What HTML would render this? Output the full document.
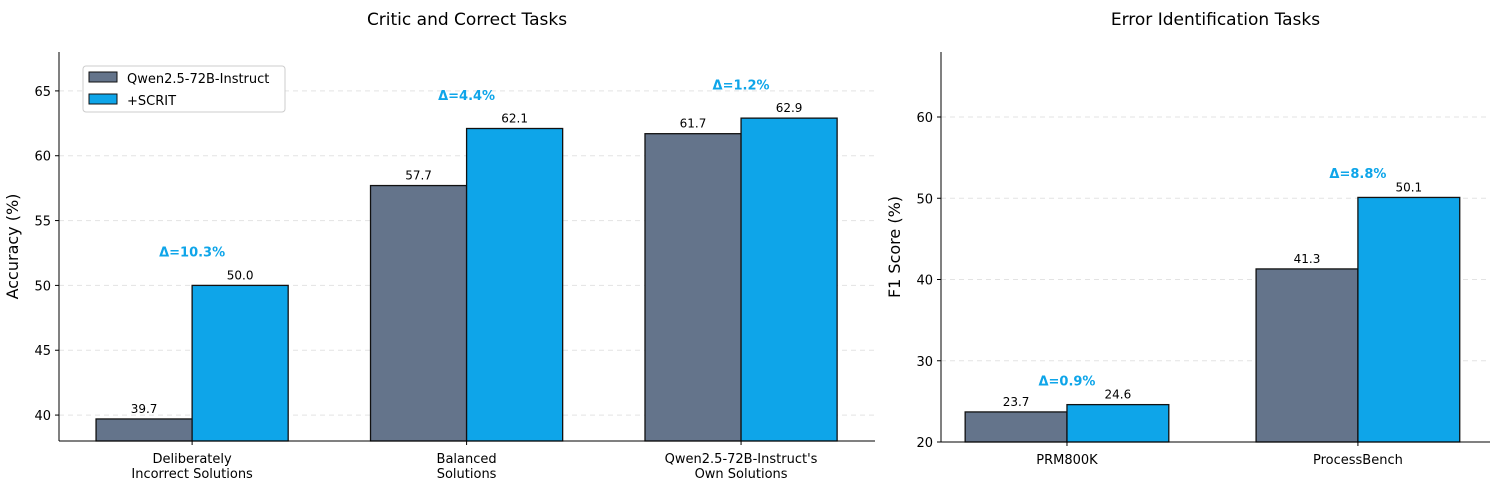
<!DOCTYPE html>
<html><head><meta charset="utf-8"><style>
html,body{margin:0;padding:0;background:#fff}
svg{display:block;font-family:"DejaVu Sans","Liberation Sans",sans-serif}
</style></head><body>
<svg id="c" width="1495" height="491" viewBox="0 0 1495 491" xmlns="http://www.w3.org/2000/svg"></svg>
<script>
const leftCats=["Deliberately\nIncorrect Solutions","Balanced\nSolutions","Qwen2.5-72B-Instruct's\nOwn Solutions"];
const leftBase=[39.7,57.7,61.7];
const leftScrit=[50.0,62.1,62.9];
const leftDelta=["Δ=10.3%","Δ=4.4%","Δ=1.2%"];
const leftTicks=[40,45,50,55,60,65];
const rightCats=["PRM800K","ProcessBench"];
const rightBase=[23.7,41.3];
const rightScrit=[24.6,50.1];
const rightDelta=["Δ=0.9%","Δ=8.8%"];
const rightTicks=[20,30,40,50,60];
const NS="http://www.w3.org/2000/svg";
const svg=document.getElementById('c');
function mk(t,a,txt){const e=document.createElementNS(NS,t);for(const k in a)e.setAttribute(k,a[k]);if(txt!==undefined)e.textContent=txt;svg.appendChild(e);return e;}
function panel(o){
  const {x0,x1,y0,y1,xmin,xmax,ymin,ymax,cats,base,scrit,delta,ticks,title,ylabel,prefix,doff}=o;
  const X=v=>x0+(v-xmin)/(xmax-xmin)*(x1-x0);
  const Y=v=>y1-(v-ymin)/(ymax-ymin)*(y1-y0);
  const w=0.35;
  ticks.forEach(t=>{
    let g=mk('line',{x1:x0,x2:x1,y1:Y(t),y2:Y(t),stroke:'#e3e3e3','stroke-dasharray':'5,4','stroke-width':1});
    
    let tk=mk('line',{x1:x0-4,x2:x0,y1:Y(t),y2:Y(t),stroke:'#000'});
    
    let l=mk('text',{x:x0-8,y:Y(t)+5,'text-anchor':'end','font-size':13},t);
    
  });
  cats.forEach((c,i)=>{
    [[base[i],'#64748b',-w],[scrit[i],'#0ea5e9',0]].forEach(([v,col,off],j)=>{
      const xa=X(i+off),xb=X(i+off+w);
      let r=mk('rect',{x:xa,y:Y(v),width:xb-xa,height:Y(ymin)-Y(v),fill:col,stroke:'#111','stroke-width':1.3});
      
      let t=mk('text',{x:(xa+xb)/2,y:Y(v)-6,'text-anchor':'middle','font-size':12},v.toFixed(1));
      
    });
    const top=Math.max(base[i],scrit[i]);
    let d=mk('text',{x:X(i),y:Y(top+doff)+5,'text-anchor':'middle','font-size':13,'font-weight':'bold',fill:'#0ea5e9'},delta[i]);
    
    let tk=mk('line',{x1:X(i),x2:X(i),y1:y1,y2:y1+4,stroke:'#000'});
    
    c.split('\n').forEach((ln,k)=>{
      let t=mk('text',{x:X(i),y:y1+22+k*15,'text-anchor':'middle','font-size':13},ln);
      
    });
  });
  let ax=mk('line',{x1:x0,x2:x0,y1:y0,y2:y1,stroke:'#000','stroke-width':1});
  
  let bx=mk('line',{x1:x0,x2:x1,y1:y1,y2:y1,stroke:'#000','stroke-width':1});
  
  let tt=mk('text',{x:(x0+x1)/2,y:25,'text-anchor':'middle','font-size':17},title);
  
  let yl=mk('text',{x:0,y:0,'text-anchor':'middle','font-size':16,transform:`translate(${x0-41},${(y0+y1)/2}) rotate(-90)`},ylabel);
  
}
panel({x0:59,x1:875,y0:52,y1:441,xmin:-0.485,xmax:2.488,ymin:38,ymax:68,cats:leftCats,base:leftBase,scrit:leftScrit,delta:leftDelta,ticks:leftTicks,title:"Critic and Correct Tasks",ylabel:"Accuracy (%)",prefix:'left',doff:2.6});
panel({x0:941,x1:1490,y0:52,y1:442,xmin:-0.433,xmax:1.454,ymin:20,ymax:68,cats:rightCats,base:rightBase,scrit:rightScrit,delta:rightDelta,ticks:rightTicks,title:"Error Identification Tasks",ylabel:"F1 Score (%)",prefix:'right',doff:3});
let lg=mk('rect',{x:83,y:66,width:202,height:46,fill:'#fff',stroke:'#ccc',rx:3});

[['Qwen2.5-72B-Instruct','#64748b',72],['+SCRIT','#0ea5e9',94]].forEach(([n,c,y])=>{
  let r=mk('rect',{x:89,y:y,width:28,height:10,fill:c,stroke:'#111'});
  
  let t=mk('text',{x:127,y:y+11,'font-size':13},n);
  
});
</script>
</body></html>
